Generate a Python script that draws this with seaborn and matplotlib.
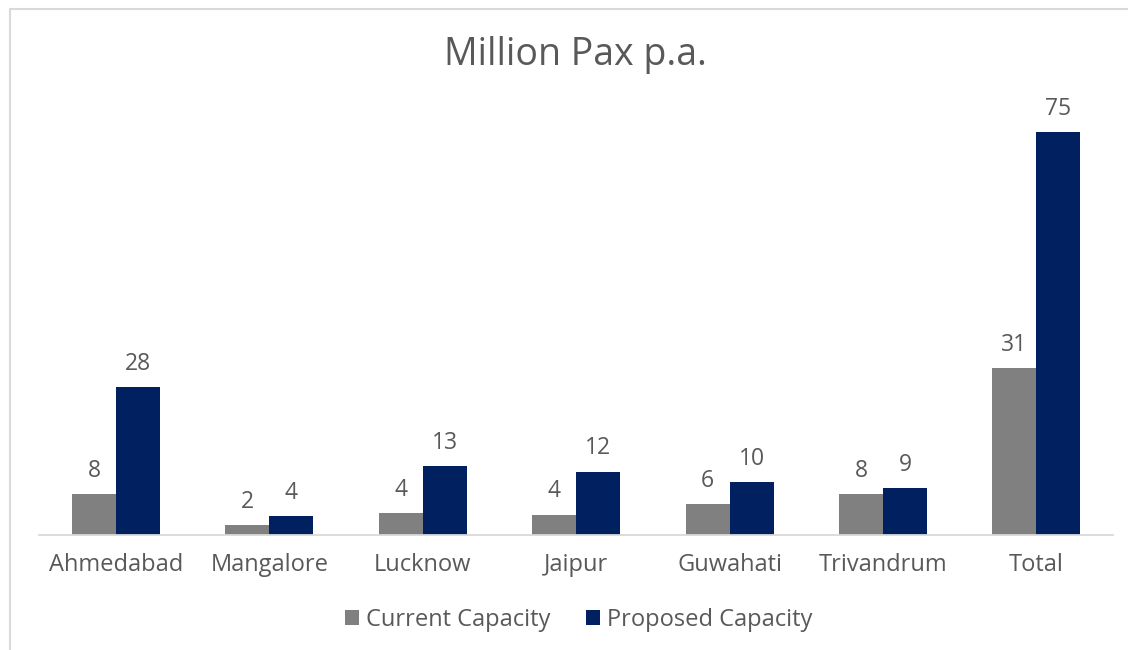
import matplotlib
matplotlib.use("Agg")
import matplotlib.pyplot as plt
import seaborn as sns
import pandas as pd
from matplotlib.patches import Patch, Rectangle

categories = ["Ahmedabad", "Mangalore", "Lucknow", "Jaipur", "Guwahati", "Trivandrum", "Total"]
current_capacity = [7.6, 1.9, 4.1, 3.8, 5.8, 7.6, 31.1]
proposed_capacity = [27.6, 3.5, 12.8, 11.8, 9.9, 8.8, 75]
series_names = ["Current Capacity", "Proposed Capacity"]
title = "Million Pax p.a."

colors = ["#808080", "#002060"]
text_color = "#595959"

sns.set_theme(style="white")
plt.rcParams['font.family'] = ['Open Sans', 'DejaVu Sans']

df = pd.DataFrame({
    "City": categories * 2,
    "Value": current_capacity + proposed_capacity,
    "Series": [series_names[0]] * len(categories) + [series_names[1]] * len(categories),
})

fig = plt.figure(figsize=(11.28, 6.5), dpi=100)
ax = fig.add_axes([39.4 / 1128, 115 / 650, (1113 - 39.4) / 1128, 430 / 650])

sns.barplot(data=df, x="City", y="Value", hue="Series", palette=colors,
            width=0.574, gap=0, ax=ax, legend=False, saturation=1, linewidth=0)

ax.set_ylim(0, 80)
ax.set_xlim(-0.5, len(categories) - 0.5)
for c in ax.containers:
    ax.bar_label(c, fmt="%.0f", padding=8, fontsize=16.5, color=text_color)

ax.set_xlabel("")
ax.set_ylabel("")
ax.set_yticks([])
for s in ["top", "right", "left"]:
    ax.spines[s].set_visible(False)
ax.spines["bottom"].set_color("#d9d9d9")
ax.spines["bottom"].set_linewidth(1.3)
ax.tick_params(axis="x", length=0, pad=13, labelsize=17, labelcolor=text_color)

fig.text(575 / 1128, 1 - 55 / 650, title, ha="center", va="center", fontsize=27, color=text_color)

handles = [Patch(facecolor=col, edgecolor="none") for col in colors]
fig.legend(handles, series_names, loc="center", bbox_to_anchor=(579 / 1128, 1 - 620 / 650),
           ncol=2, frameon=False, fontsize=17, labelcolor=text_color,
           handlelength=0.6, handleheight=0.6, handletextpad=0.3, columnspacing=1.5)

fig.patches.append(Rectangle((10 / 1128, -0.1), 1.2, 1 - 9 / 650 + 0.1,
                             transform=fig.transFigure, fill=False,
                             edgecolor="#d9d9d9", linewidth=1.5))

fig.savefig("out.png", dpi=100)
